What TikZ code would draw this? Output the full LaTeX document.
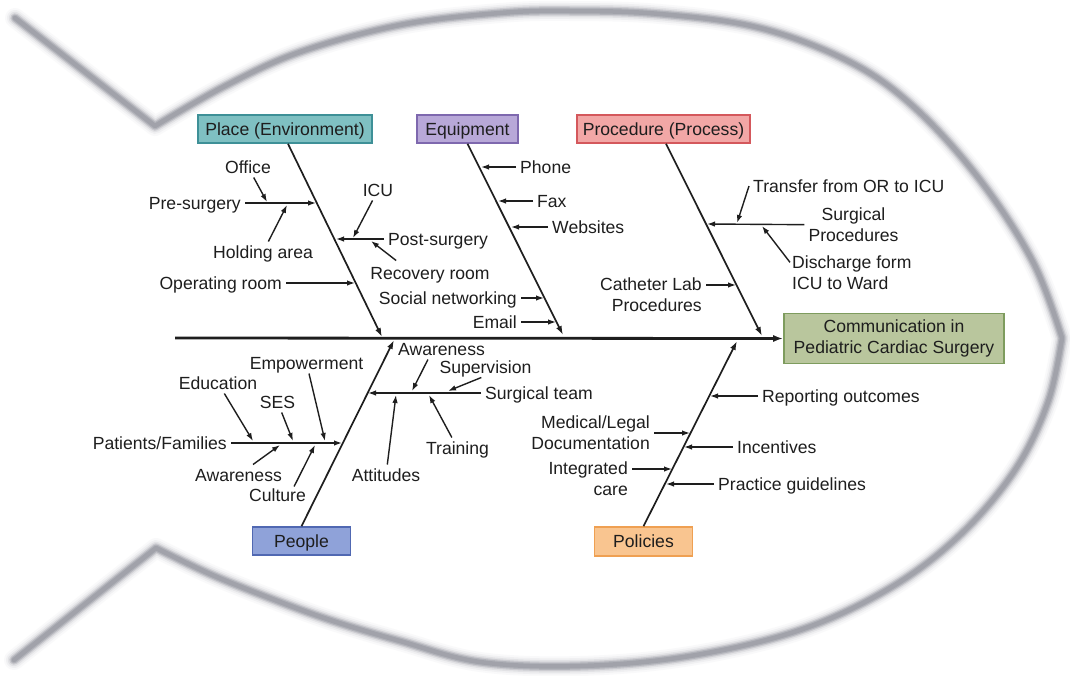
\documentclass[tikz,border=0pt]{standalone}
\usepackage{fontspec}
\setmainfont{Liberation Sans}
\usetikzlibrary{arrows.meta}

\definecolor{ink}{HTML}{1E1E1E}
\definecolor{fishgray}{HTML}{9A9CA4}
\definecolor{placefill}{HTML}{7FC0C2}\definecolor{placeedge}{HTML}{3E9097}
\definecolor{equipfill}{HTML}{B8A8D8}\definecolor{equipedge}{HTML}{7E68AE}
\definecolor{procfill}{HTML}{F2A7A6}\definecolor{procedge}{HTML}{D4585C}
\definecolor{peoplefill}{HTML}{8FA2D9}\definecolor{peopleedge}{HTML}{5068B2}
\definecolor{polfill}{HTML}{F9C590}\definecolor{poledge}{HTML}{EFA052}
\definecolor{headfill}{HTML}{B9C69D}\definecolor{headedge}{HTML}{7E9C5E}

\tikzset{
  txt/.style={font=\fontsize{17.6}{21}\selectfont, text=ink},
  lbl/.style={txt, inner sep=4pt, text height=12.6pt, text depth=0pt},
  lbltwo/.style={txt, inner sep=4pt},
  cat/.style={txt, line width=1.6pt, minimum height=28pt, inner sep=0pt,
              text height=12.6pt, text depth=0pt},
  headbox/.style={txt, draw=headedge, fill=headfill, line width=1.6pt,
              minimum width=220pt, minimum height=50pt, inner sep=0pt, align=center},
  spine/.style={draw=ink, line width=2.8pt, -{Latex[length=10pt,width=7pt]}},
  bone/.style={draw=ink, line width=1.7pt, -{Latex[length=9pt,width=6pt]}},
  twig/.style={draw=ink, line width=1.4pt, -{Latex[length=8pt,width=5.5pt]}},
}

\begin{document}
\begin{tikzpicture}[x=1pt,y=-1pt]
\useasboundingbox (0,0) rectangle (1070,675);
\fill[white] (0,0) rectangle (1070,675);

% soft grey fish outline (tail notches, back, nose and belly)
\foreach \w/\o in {20/0.05,16/0.09,12.5/0.16,9.5/0.3,7/0.5,4.5/0.7}{
  \draw[fishgray, line width=\w pt, opacity=\o, line join=round, line cap=round]
    (15,18) -- (155,126)
    -- plot[smooth, tension=0.6] coordinates {(155,126) (225,86) (300,52) (400,25)
        (500,13) (570,11) (660,14) (760,28) (850,62) (915,108) (980,180)
        (1033,262) (1062,338)}
    -- plot[smooth, tension=0.6] coordinates {(1062,338) (1048,402) (1015,470)
        (960,535) (890,588) (800,630) (690,656) (580,666) (480,662) (400,641)
        (330,620) (267,597) (210,574) (156,548)}
    -- (14,660);
}

% category boxes and effect box
\node[cat, fill=placefill, draw=placeedge, minimum width=174pt] (place) at (285,129) {Place (Environment)};
\node[cat, fill=equipfill, draw=equipedge, minimum width=101pt] (equip) at (467.5,129) {Equipment};
\node[cat, fill=procfill, draw=procedge, minimum width=173pt] (proc) at (663.5,129) {Procedure (Process)};
\node[cat, fill=peoplefill, draw=peopleedge, minimum width=98pt] (people) at (301.5,541) {People};
\node[cat, fill=polfill, draw=poledge, minimum width=98pt, minimum height=29pt] (pol) at (643.5,541.5) {Policies};
\node[headbox] (head) at (894,338.5) {Communication in\\Pediatric Cardiac Surgery};

% spine
\coordinate (tail) at (175,338);
\draw[spine] (tail) -- (head.west);

% main bones
\coordinate (placeEnd) at (382,337);
\coordinate (equipEnd) at (563,335);
\coordinate (procEnd) at (762,336);
\coordinate (peopleEnd) at (394,340);
\coordinate (polEnd) at (737,341);
\draw[bone] ([xshift=3pt]place.south) -- (placeEnd);
\draw[bone] (equip.south) -- (equipEnd);
\draw[bone] ([xshift=2.5pt]proc.south) -- (procEnd);
\draw[bone] (people.north) -- (peopleEnd);
\draw[bone] (pol.north) -- (polEnd);

% ---- Place (Environment)
\node[lbl, anchor=east] (pre) at (245,203) {Pre-surgery};
\node[lbl] (office) at (248,167) {Office};
\node[lbl] (hold) at (263,252) {Holding area};
\node[lbl] (icu) at (378,190) {ICU};
\node[lbl, anchor=west] (post) at (384,239) {Post-surgery};
\node[lbl] (rec) at (430,273) {Recovery room};
\node[lbl, anchor=east] (oproom) at (286,283) {Operating room};
\coordinate (preT) at (316,203);
\coordinate (officeT) at (267,202);
\coordinate (holdT) at (287,205);
\coordinate (postT) at (336,239);
\coordinate (icuT) at (353,238);
\coordinate (recT) at (371,241);
\coordinate (opT) at (355,283);
\draw[twig] (pre) -- (preT);
\draw[twig] (office) -- (officeT);
\draw[twig] (hold) -- (holdT);
\draw[twig] (post) -- (postT);
\draw[twig] (icu) -- (icuT);
\draw[twig] ([xshift=30pt,yshift=2pt]rec.north west) -- (recT);
\draw[twig] (oproom) -- (opT);

% ---- Equipment
\node[lbl, anchor=west] (phone) at (516,167) {Phone};
\node[lbl, anchor=west] (fax) at (533,201) {Fax};
\node[lbl, anchor=west] (web) at (548,227) {Websites};
\node[lbl, anchor=east] (soc) at (521,298) {Social networking};
\node[lbl, anchor=east] (email) at (521,322) {Email};
\coordinate (phoneT) at (481,167);
\coordinate (faxT) at (498,201);
\coordinate (webT) at (511,227);
\coordinate (socT) at (544,298);
\coordinate (emailT) at (556,322);
\draw[twig] (phone) -- (phoneT);
\draw[twig] (fax) -- (faxT);
\draw[twig] (web) -- (webT);
\draw[twig] (soc) -- (socT);
\draw[twig] (email) -- (emailT);

% ---- Procedure (Process)
\node[lbltwo, align=center] (surg) at (853.5,225) {Surgical\\Procedures};
\node[lbl, anchor=west] (trans) at (749,186) {Transfer from OR to ICU};
\node[lbltwo, align=left, anchor=west] (disch) at (788,272.5) {Discharge form\\ICU to Ward};
\node[lbltwo, align=right, anchor=east] (cath) at (706,295) {Catheter Lab\\Procedures};
\coordinate (surgT) at (707,224);
\coordinate (transT) at (737,223);
\coordinate (dischT) at (762,226);
\coordinate (cathT) at (736,285);
\draw[twig] (surg) -- (surgT);
\draw[twig] (trans.west) -- (transT);
\draw[twig] ([xshift=2pt,yshift=-11pt]disch.north west) -- (dischT);
\draw[twig] (cath.east |- cathT) -- (cathT);

% ---- People
\node[lbl, anchor=east] (pat) at (231,443) {Patients/Families};
\node[lbl] (emp) at (306.5,363) {Empowerment};
\node[lbl] (edu) at (218,383) {Education};
\node[lbl] (ses) at (277.5,402) {SES};
\node[lbl] (aw) at (238.5,475) {Awareness};
\node[lbl] (cult) at (277.5,495) {Culture};
\coordinate (patT) at (342,443);
\coordinate (empT) at (325,441);
\coordinate (eduT) at (253,441);
\coordinate (sesT) at (293,441);
\coordinate (awT) at (280,445);
\coordinate (cultT) at (315,445);
\draw[twig] (pat) -- (patT);
\draw[twig] (emp) -- (empT);
\draw[twig] (edu) -- (eduT);
\draw[twig] (ses) -- (sesT);
\draw[twig] (aw) -- (awT);
\draw[twig] ([xshift=-16pt,yshift=-2pt]cult.north east) -- (cultT);

\node[lbl, anchor=west] (team) at (481,393) {Surgical team};
\node[lbl] (awtwo) at (441.5,349) {Awareness};
\node[lbl] (sup) at (485.5,367) {Supervision};
\node[lbl] (train) at (457.5,448) {Training};
\node[lbl] (att) at (386,475) {Attitudes};
\coordinate (teamT) at (368,393);
\coordinate (awtwoT) at (412,391);
\coordinate (supT) at (448,391);
\coordinate (trainT) at (429,395);
\coordinate (attT) at (396,395);
\draw[twig] (team) -- (teamT);
\draw[twig] ([xshift=34pt]awtwo.south west) -- (awtwoT);
\draw[twig] ([xshift=46pt]sup.south west) -- (supT);
\draw[twig] (train) -- (trainT);
\draw[twig] (att) -- (attT);

% ---- Policies
\node[lbl, anchor=west] (rep) at (758,396) {Reporting outcomes};
\node[lbltwo, align=right, anchor=east] (med) at (654,433) {Medical/Legal\\Documentation};
\node[lbl, anchor=west] (inc) at (733,447) {Incentives};
\node[lbltwo, align=right, anchor=east] (integ) at (632,479) {Integrated\\care};
\node[lbl, anchor=west] (prac) at (714,484) {Practice guidelines};
\coordinate (repT) at (710,396);
\coordinate (medT) at (690,433);
\coordinate (incT) at (684,447);
\coordinate (integT) at (672,469);
\coordinate (pracT) at (666,484);
\draw[twig] (rep) -- (repT);
\draw[twig] (med) -- (medT);
\draw[twig] (inc) -- (incT);
\draw[twig] (integ.east |- integT) -- (integT);
\draw[twig] (prac) -- (pracT);
\end{tikzpicture}
\end{document}
